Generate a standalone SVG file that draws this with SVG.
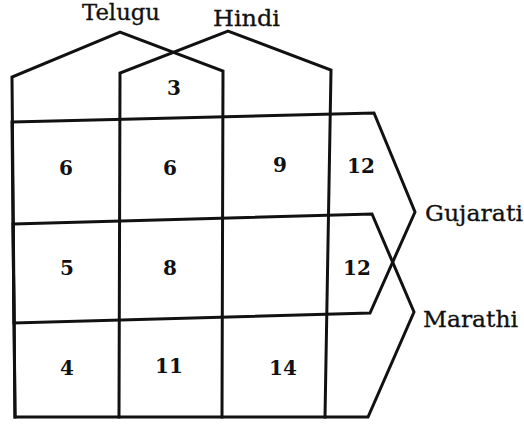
<svg xmlns="http://www.w3.org/2000/svg" width="524" height="425" viewBox="0 0 524 425">
<style>
.ln{fill:none;stroke:#111;stroke-width:3;stroke-linejoin:miter;stroke-linecap:square}
.lbl{font-family:"DejaVu Serif","Liberation Serif",serif;font-size:22px;fill:#111;stroke:#111;stroke-width:0.3}
.num{font-family:"DejaVu Serif","Liberation Serif",serif;font-size:20px;font-weight:bold;fill:#111;text-anchor:middle}
</style>
<rect width="524" height="425" fill="#fff"/>
<g id="telugu">
<polyline class="ln" points="15,417 12,77 120,32 223,71 222,417"/>
<text class="lbl" x="82" y="20" textLength="78" lengthAdjust="spacingAndGlyphs">Telugu</text>
</g>
<g id="hindi">
<polyline class="ln" points="119,417 120,73 228,31 331,70 325,417"/>
<text class="lbl" x="213" y="26" textLength="67" lengthAdjust="spacingAndGlyphs">Hindi</text>
</g>
<g id="gujarati">
<polygon class="ln" points="12,122 374,113 415,212 370,313 14,323"/>
<text class="lbl" x="425" y="221" textLength="98" lengthAdjust="spacingAndGlyphs">Gujarati</text>
</g>
<g id="marathi">
<polygon class="ln" points="13,224 372,214 414,312 368,417 15,417"/>
<text class="lbl" x="423" y="327" textLength="95" lengthAdjust="spacingAndGlyphs">Marathi</text>
</g>
<g id="numbers">
<text class="num" x="174" y="95">3</text>
<text class="num" x="66" y="175">6</text>
<text class="num" x="170" y="175">6</text>
<text class="num" x="280" y="172">9</text>
<text class="num" x="361" y="173">12</text>
<text class="num" x="67" y="275">5</text>
<text class="num" x="170" y="275">8</text>
<text class="num" x="357" y="275">12</text>
<text class="num" x="67" y="375">4</text>
<text class="num" x="169" y="373">11</text>
<text class="num" x="283" y="375">14</text>
</g>
</svg>
